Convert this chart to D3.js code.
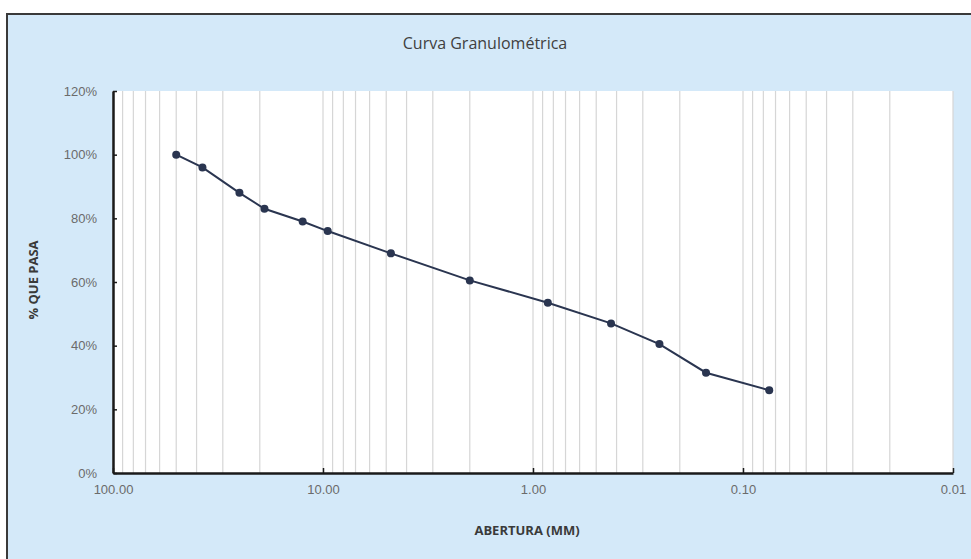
<!DOCTYPE html>
<html>
<head>
<meta charset="utf-8">
<script src="https://cdn.jsdelivr.net/npm/d3@7"></script>
<style>
  body { margin: 0; background: #ffffff; }
  svg { display: block; font-family: "Open Sans", "DejaVu Sans", sans-serif; }
</style>
</head>
<body>
<div id="chart"></div>
<script>
// sieve openings (mm) and percent passing
var aberturas = [50, 37.5, 25, 19, 12.5, 9.5, 4.75, 2.0, 0.85, 0.425, 0.25, 0.15, 0.075];
var pasa = [100, 96, 88, 83, 79, 76, 69, 60.5, 53.5, 47, 40.5, 31.5, 26];
var xTicks = [100, 10, 1, 0.1, 0.01];
var yTicks = [0, 20, 40, 60, 80, 100, 120];

var svgWidth = 971;
var svgHeight = 559;
var margin = { top: 91, bottom: 86, left: 113, right: 18 };
var chartWidth = svgWidth - margin.left - margin.right;
var chartHeight = svgHeight - margin.top - margin.bottom;

var svg = d3.select("#chart").append("svg")
    .attr("width", svgWidth)
    .attr("height", svgHeight);

// chart area background + frame
svg.append("rect")
    .attr("x", 6).attr("y", 13)
    .attr("width", svgWidth - 6).attr("height", svgHeight - 13)
    .attr("fill", "#d4e9f9");
svg.append("path")
    .attr("d", "M7," + svgHeight + " V14 H" + svgWidth)
    .attr("fill", "none")
    .attr("stroke", "#3a3a3a")
    .attr("stroke-width", 2);

var chartGroup = svg.append("g")
    .attr("transform", `translate(${margin.left},${margin.top})`);

var xScale = d3.scaleLog().domain([100, 0.01]).range([0, chartWidth]);
var yScale = d3.scaleLinear().domain([0, 120]).range([chartHeight, 0]);

// plot area
chartGroup.append("rect")
    .attr("width", chartWidth).attr("height", chartHeight)
    .attr("fill", "#ffffff");

// vertical log gridlines
var gridVals = xScale.ticks();
chartGroup.selectAll(".vgrid")
    .data(gridVals)
    .enter()
    .append("line")
    .attr("class", "vgrid")
    .attr("x1", d => xScale(d)).attr("x2", d => xScale(d))
    .attr("y1", 0).attr("y2", chartHeight)
    .attr("stroke", "#d6d6d6")
    .attr("stroke-width", 1.2);

// axes
var bottomAxis = d3.axisBottom(xScale)
    .tickValues(xTicks)
    .tickFormat(d3.format(".2f"))
    .tickSizeInner(-5).tickSizeOuter(0).tickPadding(12);
var leftAxis = d3.axisLeft(yScale)
    .tickValues(yTicks)
    .tickFormat(d => d + "%")
    .tickSizeInner(-4).tickSizeOuter(0).tickPadding(16);

var xAxis = chartGroup.append("g")
    .attr("transform", `translate(0,${chartHeight})`)
    .call(bottomAxis);
var yAxis = chartGroup.append("g").call(leftAxis);

[xAxis, yAxis].forEach(function(ax) {
    ax.select(".domain").attr("stroke", "#1a1a1a").attr("stroke-width", 2.5);
    ax.selectAll(".tick line").attr("stroke", "#1a1a1a").attr("stroke-width", 1.5);
    ax.selectAll(".tick text").attr("fill", "#6b6b6b").style("font-size", "13px");
});

// curve
var line = d3.line()
    .x((d, i) => xScale(aberturas[i]))
    .y(d => yScale(d));

chartGroup.append("path")
    .datum(pasa)
    .attr("d", line)
    .attr("fill", "none")
    .attr("stroke", "#2a3550")
    .attr("stroke-width", 2);

chartGroup.selectAll(".pt")
    .data(pasa)
    .enter()
    .append("circle")
    .attr("class", "pt")
    .attr("cx", (d, i) => xScale(aberturas[i]))
    .attr("cy", d => yScale(d))
    .attr("r", 4)
    .attr("fill", "#2a3550");

// title and axis labels
svg.append("text")
    .attr("x", 485).attr("y", 49)
    .attr("text-anchor", "middle")
    .attr("fill", "#404040")
    .style("font-size", "16px")
    .text("Curva Granulométrica");

svg.append("text")
    .attr("x", margin.left + chartWidth / 2 - 6).attr("y", 535)
    .attr("text-anchor", "middle")
    .attr("fill", "#3a3a3a")
    .style("font-size", "13px")
    .style("font-weight", "bold")
    .text("ABERTURA (MM)");

svg.append("text")
    .attr("transform", "rotate(-90)")
    .attr("x", -(margin.top + chartHeight / 2) + 2).attr("y", 38)
    .attr("text-anchor", "middle")
    .attr("fill", "#3a3a3a")
    .style("font-size", "13px")
    .style("font-weight", "bold")
    .text("% QUE PASA");
</script>
</body>
</html>
